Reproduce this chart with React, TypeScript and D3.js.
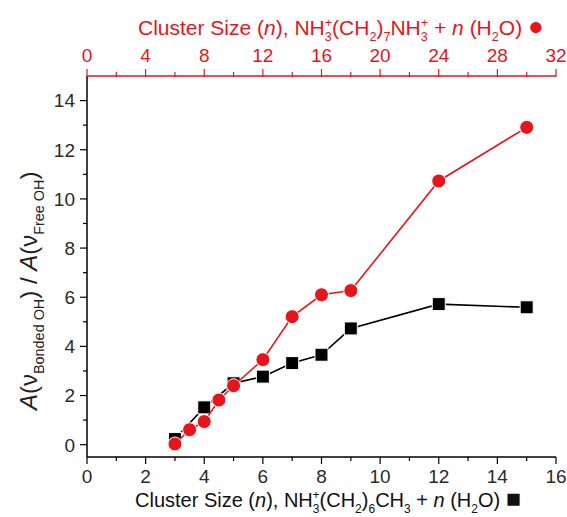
import * as d3 from "d3"

// bottom axis series: NH3+(CH2)6CH3 + n(H2O)
const squareN = [3, 4, 5, 6, 7, 8, 9, 12, 15]
const squareRatio = [0.23, 1.52, 2.5, 2.77, 3.32, 3.66, 4.73, 5.72, 5.59]
// top axis series: NH3+(CH2)7NH3+ + n(H2O)
const circleN = [6, 7, 8, 9, 10, 12, 14, 16, 18, 24, 30]
const circleRatio = [0.03, 0.61, 0.94, 1.82, 2.4, 3.46, 5.21, 6.1, 6.27, 10.73, 12.91]

const bottomTicks = [0, 2, 4, 6, 8, 10, 12, 14, 16]
const topTicks = [0, 4, 8, 12, 16, 20, 24, 28, 32]
const yTicks = [0, 2, 4, 6, 8, 10, 12, 14]

const RED = "#e8141c"
const FONT = "Liberation Sans, Arial, sans-serif"

type Seg = { t: string; k?: "sub" | "sup" | "it" | "big"; dx?: number }

// turn text pieces into tspans, subscripts/superscripts shift with dy
const rich = (segs: Seg[], size: number) => {
    let level = 0
    return segs.map((s, i) => {
        const target = s.k === "sub" ? size * 0.3 : s.k === "sup" ? -size * 0.4 : 0
        const dy = target - level
        level = target
        const small = s.k === "sub" || s.k === "sup"
        return (
            <tspan key={i} dy={dy} dx={s.dx}
                fontSize={small ? size * 0.6 : s.k === "big" ? size * 1.25 : size}
                fontStyle={s.k === "it" ? "italic" : undefined}>{s.t}</tspan>
        )
    })
}

export default function App() {
    const xB = d3.scaleLinear().domain([0, 16]).range([87, 556])
    const xT = d3.scaleLinear().domain([0, 32]).range([87, 556])
    const y = d3.scaleLinear().domain([-0.5, 15]).range([457, 76])

    const [x0, x1] = xB.range()
    const [yb, yt] = y.range()

    const lineB = d3.line<number>().x((_, i) => xB(squareN[i])).y((d) => y(d))
    const lineT = d3.line<number>().x((_, i) => xT(circleN[i])).y((d) => y(d))

    const topTitle: Seg[] = [
        { t: "Cluster Size (" }, { t: "n", k: "it" }, { t: "), NH" }, { t: "3", k: "sub" }, { t: "+", k: "sup", dx: -7 },
        { t: "(CH" }, { t: "2", k: "sub" }, { t: ")" }, { t: "7", k: "sub" }, { t: "NH" }, { t: "3", k: "sub" },
        { t: "+", k: "sup", dx: -7 }, { t: " + " }, { t: "n", k: "it" }, { t: " (H" }, { t: "2", k: "sub" }, { t: "O) " },
        { t: "●", k: "big" },
    ]
    const bottomTitle: Seg[] = [
        { t: "Cluster Size (" }, { t: "n", k: "it" }, { t: "), NH" }, { t: "3", k: "sub" }, { t: "+", k: "sup", dx: -7 },
        { t: "(CH" }, { t: "2", k: "sub" }, { t: ")" }, { t: "6", k: "sub" }, { t: "CH" }, { t: "3", k: "sub" },
        { t: " + " }, { t: "n", k: "it" }, { t: " (H" }, { t: "2", k: "sub" }, { t: "O) " }, { t: "■", k: "big" },
    ]
    const yTitle: Seg[] = [
        { t: "A", k: "it" }, { t: "(ν" }, { t: "Bonded OH", k: "sub" }, { t: ") / " }, { t: "A", k: "it" },
        { t: "(ν" }, { t: "Free OH", k: "sub" }, { t: ")" },
    ]

    return (
        <svg width={567} height={517} style={{ position: "absolute", left: 0, top: 0, background: "white" }}
            fontFamily={FONT}>
            {/* left axis */}
            <line x1={x0} x2={x0} y1={yb} y2={yt} stroke="black" strokeWidth={1.5} />
            {d3.range(0, 15, 1).map((v) => (
                <line key={v} x1={x0} x2={x0 - (v % 2 === 0 ? 7 : 4)} y1={y(v)} y2={y(v)} stroke="black" strokeWidth={1.2} />
            ))}
            {yTicks.map((v) => (
                <text key={v} x={x0 - 12} y={y(v)} dy="0.36em" textAnchor="end" fontSize={19} fill="#2a2a2a">{v}</text>
            ))}

            {/* bottom axis */}
            <line x1={x0} x2={x1} y1={yb} y2={yb} stroke="black" strokeWidth={1.5} />
            {d3.range(0, 17, 1).map((v) => (
                <line key={v} x1={xB(v)} x2={xB(v)} y1={yb} y2={yb + (v % 2 === 0 ? 7 : 4)} stroke="black" strokeWidth={1.2} />
            ))}
            {bottomTicks.map((v) => (
                <text key={v} x={xB(v)} y={483} textAnchor="middle" fontSize={19} fill="#2a2a2a">{v}</text>
            ))}

            {/* top axis */}
            <line x1={x0} x2={x1} y1={yt} y2={yt} stroke={RED} strokeWidth={1.5} />
            {d3.range(0, 33, 2).map((v) => (
                <line key={v} x1={xT(v)} x2={xT(v)} y1={yt + 1} y2={yt - (v % 4 === 0 ? 7 : 4)} stroke={RED} strokeWidth={1.2} />
            ))}
            {topTicks.map((v) => (
                <text key={v} x={xT(v)} y={62} textAnchor="middle" fontSize={19} fill={RED}>{v}</text>
            ))}

            {/* titles */}
            <text x={138} y={35} fontSize={21} fill={RED}>{rich(topTitle, 21)}</text>
            <text x={135} y={507} fontSize={20} fill="#111">{rich(bottomTitle, 20)}</text>
            <text transform="translate(37, 410) rotate(-90)" fontSize={24} fill="#222">{rich(yTitle, 24)}</text>

            {/* series */}
            <path d={lineB(squareRatio) ?? ""} fill="none" stroke="black" strokeWidth={1.6} />
            {squareRatio.map((v, i) => (
                <rect key={i} x={xB(squareN[i]) - 6.5} y={y(v) - 6.5} width={13} height={13} fill="black" stroke="white" strokeWidth={1} />
            ))}
            <path d={lineT(circleRatio) ?? ""} fill="none" stroke={RED} strokeWidth={1.6} />
            {circleRatio.map((v, i) => (
                <circle key={i} cx={xT(circleN[i])} cy={y(v)} r={7} fill={RED} stroke="white" strokeWidth={1} />
            ))}
        </svg>
    )
}
